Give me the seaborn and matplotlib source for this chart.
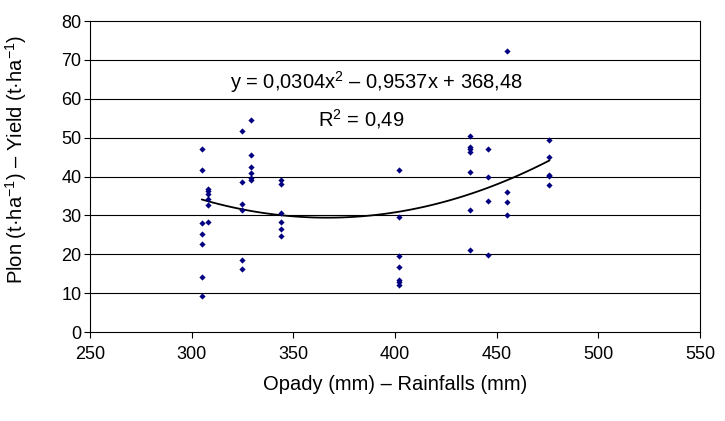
import numpy as np
import pandas as pd
import matplotlib
matplotlib.use("Agg")
import matplotlib.pyplot as plt
import seaborn as sns

# Dati: opady (mm) e plon (t/ha)
rainfall = [305, 305, 305, 305, 305, 305, 305,
            308, 308, 308, 308, 308, 308,
            325, 325, 325, 325, 325, 325,
            329, 329, 329, 329, 329, 329,
            344, 344, 344, 344, 344, 344,
            402, 402, 402, 402, 402, 402, 402,
            437, 437, 437, 437, 437, 437, 437,
            446, 446, 446, 446,
            455, 455, 455, 455,
            476, 476, 476, 476, 476]
yield_t = [47.2, 41.8, 28.0, 25.2, 22.7, 14.2, 9.2,
           36.8, 36.2, 35.5, 34.3, 32.8, 28.2,
           51.7, 38.7, 33.0, 31.5, 18.6, 16.3,
           54.6, 45.6, 42.4, 40.8, 39.6, 39.0,
           39.2, 38.0, 30.5, 28.2, 26.6, 24.7,
           41.7, 29.7, 19.6, 16.7, 13.3, 12.8, 12.1,
           50.5, 47.7, 47.0, 46.4, 41.1, 31.3, 21.1,
           47.2, 40.0, 33.7, 19.9,
           72.3, 36.1, 33.5, 30.2,
           49.5, 44.9, 40.5, 40.2, 37.8]

x_ticks = [250, 300, 350, 400, 450, 500, 550]
y_ticks = [0, 10, 20, 30, 40, 50, 60, 70, 80]
eq_text = r"y = 0,0304x$^2$ – 0,9537x + 368,48"
r2_text = r"R$^2$ = 0,49"

df = pd.DataFrame({"rain": rainfall, "yield": yield_t})

sns.set_theme(style="white")
plt.rcParams["font.family"] = ["Liberation Sans", "DejaVu Sans"]
plt.rcParams["mathtext.fontset"] = "custom"
plt.rcParams["mathtext.rm"] = "Liberation Sans"
plt.rcParams["mathtext.it"] = "Liberation Sans"
plt.rcParams["mathtext.bf"] = "Liberation Sans"
plt.rcParams["text.color"] = "black"
plt.rcParams["axes.labelcolor"] = "black"
plt.rcParams["xtick.color"] = "black"
plt.rcParams["ytick.color"] = "black"

fig = plt.figure(figsize=(7.25, 4.21), dpi=100)
ax = fig.add_axes([0.124, 0.2114, 0.8415, 0.7386])

for v in y_ticks[1:-1]:
    ax.axhline(v, color="black", lw=0.8, zorder=0)

sns.scatterplot(data=df, x="rain", y="yield", marker="D", s=10,
                color="#000080", edgecolor="#000080", linewidth=0, ax=ax, zorder=3)
sns.regplot(data=df, x="rain", y="yield", order=2, ci=None, scatter=False,
            line_kws={"color": "black", "lw": 1.3}, ax=ax)

ax.set_xlim(250, 550)
ax.set_ylim(0, 80)
ax.set_xticks(x_ticks)
ax.set_yticks(y_ticks)
ax.tick_params(axis="both", labelsize=13, direction="out", length=4,
               width=0.8, color="black", left=True, bottom=True)
ax.tick_params(axis="x", pad=6)
ax.tick_params(axis="y", pad=2)
for s in ax.spines.values():
    s.set_color("black")
    s.set_linewidth(0.8)

ax.set_xlabel("Opady (mm) – Rainfalls (mm)", fontsize=14.5, labelpad=9)
ax.set_ylabel(r"Plon (t·ha$^{-1}$) – Yield (t·ha$^{-1}$)", fontsize=14.5)
ax.yaxis.set_label_coords(-0.1, 0.556)

ax.text(391, 64.4, eq_text, fontsize=14.5, ha="center", va="center")
ax.text(362, 54.8, r2_text, fontsize=14.5, ha="left", va="center")

fig.savefig("out.png", dpi=100, facecolor="white")
